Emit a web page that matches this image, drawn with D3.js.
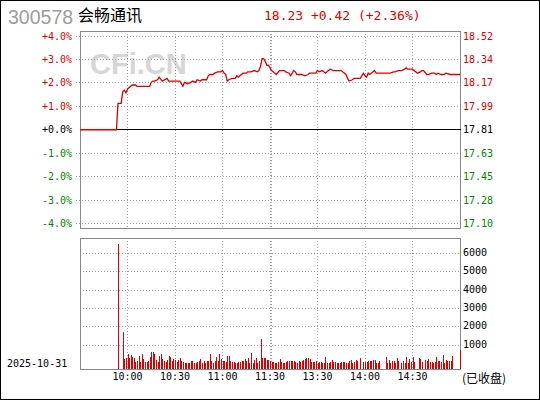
<!DOCTYPE html>
<html>
<head>
<meta charset="utf-8">
<script src="https://cdn.jsdelivr.net/npm/d3@7"></script>
<style>
  body { margin: 0; background: #fff; }
  svg { display: block; }
</style>
</head>
<body>
<svg width="540" height="400"></svg>
<script>
// valeurs
const stockCode = "300578";
const stockName = "会畅通讯";
const quoteText = "18.23 +0.42 (+2.36%)";
const tradeDate = "2025-10-31";
const prevClose = 17.81;

const pctTicks = [4, 3, 2, 1, 0, -1, -2, -3, -4];
const pctLabels = ["+4.0%", "+3.0%", "+2.0%", "+1.0%", "+0.0%", "-1.0%", "-2.0%", "-3.0%", "-4.0%"];
const priceLabels = ["18.52", "18.34", "18.17", "17.99", "17.81", "17.63", "17.45", "17.28", "17.10"];
const volTicks = [6000, 5000, 4000, 3000, 2000, 1000];
const timeTicks = ["10:00", "10:30", "11:00", "11:30", "13:30", "14:00", "14:30"];

// cours minute (heure, prix)
const priceSeries = [
  ["09:30", 17.81], ["09:53", 17.81], ["09:54", 18.01], ["09:56", 18.01], ["09:57", 18.10],
  ["09:58", 18.11], ["09:59", 18.09], ["10:00", 18.12], ["10:03", 18.15], ["10:05", 18.15],
  ["10:06", 18.14], ["10:08", 18.14], ["10:14", 18.14], ["10:15", 18.17], ["10:16", 18.18],
  ["10:17", 18.18], ["10:19", 18.19], ["10:20", 18.21], ["10:22", 18.18], ["10:25", 18.20],
  ["10:26", 18.18], ["10:28", 18.18], ["10:30", 18.18], ["10:33", 18.18], ["10:34", 18.16],
  ["10:35", 18.14], ["10:36", 18.17], ["10:38", 18.16], ["10:40", 18.17], ["10:41", 18.18],
  ["10:43", 18.17], ["10:44", 18.19], ["10:46", 18.18], ["10:47", 18.19], ["10:50", 18.19],
  ["10:51", 18.22], ["10:52", 18.23], ["10:54", 18.23], ["10:55", 18.24], ["10:57", 18.25],
  ["10:59", 18.25], ["11:00", 18.26], ["11:01", 18.24], ["11:02", 18.23], ["11:03", 18.18],
  ["11:04", 18.19], ["11:06", 18.20], ["11:08", 18.20], ["11:09", 18.22], ["11:10", 18.21],
  ["11:11", 18.22], ["11:13", 18.24], ["11:15", 18.24], ["11:16", 18.25], ["11:18", 18.25],
  ["11:20", 18.26], ["11:22", 18.25], ["11:23", 18.26], ["11:24", 18.29], ["11:25", 18.35],
  ["11:26", 18.35], ["11:27", 18.33], ["11:28", 18.30], ["11:29", 18.30], ["11:30", 18.28],
  ["13:01", 18.26], ["13:03", 18.24], ["13:04", 18.23], ["13:06", 18.26], ["13:07", 18.26],
  ["13:09", 18.26], ["13:10", 18.25], ["13:12", 18.24], ["13:13", 18.22], ["13:14", 18.24],
  ["13:15", 18.26], ["13:16", 18.25], ["13:17", 18.23], ["13:19", 18.23], ["13:20", 18.23],
  ["13:22", 18.22], ["13:24", 18.23], ["13:25", 18.24], ["13:27", 18.24], ["13:29", 18.24],
  ["13:30", 18.26], ["13:31", 18.25], ["13:33", 18.26], ["13:34", 18.25], ["13:35", 18.24],
  ["13:36", 18.25], ["13:38", 18.27], ["13:40", 18.26], ["13:41", 18.26], ["13:43", 18.26],
  ["13:45", 18.26], ["13:47", 18.24], ["13:48", 18.23], ["13:49", 18.20], ["13:50", 18.18],
  ["13:52", 18.19], ["13:53", 18.20], ["13:55", 18.20], ["13:57", 18.20], ["13:58", 18.22],
  ["13:59", 18.24], ["14:00", 18.22], ["14:01", 18.21], ["14:02", 18.24], ["14:03", 18.23],
  ["14:04", 18.24], ["14:06", 18.26], ["14:07", 18.24], ["14:14", 18.24], ["14:16", 18.24],
  ["14:18", 18.25], ["14:19", 18.25], ["14:21", 18.26], ["14:23", 18.26], ["14:25", 18.27],
  ["14:26", 18.28], ["14:27", 18.27], ["14:30", 18.27], ["14:32", 18.25], ["14:33", 18.24],
  ["14:35", 18.25], ["14:36", 18.26], ["14:37", 18.26], ["14:39", 18.23], ["14:40", 18.23],
  ["14:42", 18.24], ["14:44", 18.24], ["14:45", 18.23], ["14:46", 18.24], ["14:48", 18.23],
  ["14:50", 18.23], ["14:51", 18.24], ["14:54", 18.23], ["15:00", 18.23]
];

// volume par minute à partir de 09:54
const volumeStart = "09:54";
const volumes = [
  6500, 0, 0, 1700, 255, 326, 527, 293, 456, 348,
  293, 109, 150, 402, 109, 527, 255, 109, 76, 150,
  350, 652, 652, 510, 180, 76, 402, 510, 236, 150,
  76, 180, 418, 350, 150, 255, 180, 109, 200, 290,
  150, 109, 60, 30, 60, 60, 150, 150, 40, 40,
  109, 150, 255, 40, 150, 40, 150, 150, 510, 150,
  40, 170, 380, 150, 510, 236, 170, 150, 109, 418,
  418, 150, 76, 76, 40, 60, 76, 109, 150, 170,
  260, 150, 290, 40, 581, 40, 180, 290, 60, 150,
  1340, 290, 290, 290, 220, 200, 130, 109, 90, 40,
  40, 109, 255, 109, 60, 40, 109, 130, 150, 150,
  150, 150, 76, 40, 130, 76, 150, 180, 270, 330,
  330, 255, 76, 109, 109, 150, 40, 109, 109, 40,
  40, 380, 40, 40, 109, 180, 109, 109, 40, 40,
  40, 76, 76, 109, 40, 40, 150, 180, 40, 109,
  180, 150, 0, 310, 0, 109, 109, 76, 150, 150,
  150, 180, 220, 40, 40, 150, 0, 0, 0, 380,
  40, 200, 40, 150, 150, 20, 310, 150, 0, 40,
  150, 40, 380, 40, 236, 76, 380, 76, 0, 0,
  290, 270, 76, 0, 200, 150, 236, 76, 76, 40,
  109, 380, 150, 150, 109, 473, 40, 200, 150, 150,
  150, 418, 0, 0, 0, 0, 745
];

// index de minute dans la séance (9:30-11:30, 13:01-15:00)
function minuteIndex(t) {
  const [h, m] = t.split(":").map(Number);
  const mins = h * 60 + m;
  return mins <= 690 ? mins - 570 : mins - 780 + 120;
}

const red = "#dd0000", green = "#008800";
const mono = "'DejaVu Sans Mono', monospace";
const cjk = "'Noto Sans CJK SC', sans-serif";

const svg = d3.select("svg");

svg.append("rect")
  .attr("x", 0.5).attr("y", 0.5)
  .attr("width", 539).attr("height", 399)
  .attr("fill", "#fff").attr("stroke", "#000");

// échelles
const x = d3.scaleLinear().domain([0, 240]).range([80, 460]);
const yPct = d3.scaleLinear().domain([-4, 4]).range([223.5, 36]);
const yVol = d3.scaleLinear().domain([0, 6000]).range([363.7, 253.3]);

const pTop = { y0: 31, y1: 228 };
const pBot = { y0: 238, y1: 369 };
const crisp = v => Math.floor(v) + 0.5;

// en-tête
svg.append("text").attr("x", 8).attr("y", 24)
  .attr("font-family", "'Liberation Sans', Arial, sans-serif").attr("font-size", 19.5)
  .attr("fill", "#9c9c9c").text(stockCode);
svg.append("text").attr("x", 78).attr("y", 21)
  .attr("font-family", cjk).attr("font-size", 16)
  .attr("fill", "#000").text(stockName);
svg.append("text").attr("x", 264).attr("y", 20)
  .attr("font-family", mono).attr("font-size", 13)
  .attr("fill", red).text(quoteText);

// filigrane
svg.append("text").attr("x", 90).attr("y", 74)
  .attr("font-family", "'Liberation Sans', Arial, sans-serif")
  .attr("font-size", 29).attr("font-weight", "bold")
  .attr("fill", "#d6d6d6").text("CFi.CN");

// grilles
const gridStyle = s => s.attr("stroke", "#a0a0a0").attr("stroke-dasharray", "1,2").attr("fill", "none");

svg.append("g").selectAll("line")
  .data(pctTicks.filter(d => d !== 0))
  .join("line")
  .attr("x1", 76).attr("x2", 460)
  .attr("y1", d => crisp(yPct(d))).attr("y2", d => crisp(yPct(d)))
  .call(gridStyle);

svg.append("g").selectAll("line")
  .data(volTicks)
  .join("line")
  .attr("x1", 80).attr("x2", 460)
  .attr("y1", d => crisp(yVol(d))).attr("y2", d => crisp(yVol(d)))
  .call(gridStyle);

const vLines = timeTicks.map(minuteIndex).concat([121]);
[pTop, pBot].forEach(p => {
  svg.append("g").selectAll("line")
    .data(vLines)
    .join("line")
    .attr("x1", d => crisp(x(d))).attr("x2", d => crisp(x(d)))
    .attr("y1", p.y0).attr("y2", p.y1)
    .call(gridStyle);
});

// cadres
[pTop, pBot].forEach(p => {
  svg.append("rect")
    .attr("x", 80.5).attr("y", p.y0 + 0.5)
    .attr("width", 380).attr("height", p.y1 - p.y0)
    .attr("fill", "none").attr("stroke", "#888");
});

// ligne zéro
svg.append("line")
  .attr("x1", 80).attr("x2", 461)
  .attr("y1", crisp(yPct(0))).attr("y2", crisp(yPct(0)))
  .attr("stroke", "#000");

// courbe de prix
const line = d3.line()
  .x(d => x(minuteIndex(d[0])))
  .y(d => yPct((d[1] / prevClose - 1) * 100));

svg.append("path")
  .datum(priceSeries)
  .attr("d", line)
  .attr("fill", "none")
  .attr("stroke", red)
  .attr("stroke-width", 1.3);

// barres de volume
const start = minuteIndex(volumeStart);
const volData = volumes.map((v, i) => ({ m: start + i, v })).filter(d => d.v > 0);
svg.append("g").selectAll("rect")
  .data(volData)
  .join("rect")
  .attr("x", d => Math.round(x(d.m)))
  .attr("y", d => yVol(d.v))
  .attr("width", 1)
  .attr("height", d => pBot.y1 - yVol(d.v))
  .attr("fill", red)
  .attr("shape-rendering", "crispEdges");

// étiquettes axe gauche / droit
svg.append("g").selectAll("text")
  .data(pctTicks)
  .join("text")
  .attr("x", 72).attr("y", d => yPct(d))
  .attr("text-anchor", "end").attr("dominant-baseline", "central")
  .attr("font-family", mono).attr("font-size", 10)
  .attr("fill", d => d > 0 ? red : d < 0 ? green : "#000")
  .text((d, i) => pctLabels[i]);

svg.append("g").selectAll("text")
  .data(pctTicks)
  .join("text")
  .attr("x", 463).attr("y", d => yPct(d))
  .attr("dominant-baseline", "central")
  .attr("font-family", mono).attr("font-size", 10)
  .attr("fill", d => d > 0 ? red : d < 0 ? green : "#000")
  .text((d, i) => priceLabels[i]);

svg.append("g").selectAll("text")
  .data(volTicks)
  .join("text")
  .attr("x", 463).attr("y", d => yVol(d) - 1)
  .attr("dominant-baseline", "central")
  .attr("font-family", mono).attr("font-size", 10)
  .attr("fill", "#000")
  .text(d => d);

svg.append("g").selectAll("text")
  .data(timeTicks)
  .join("text")
  .attr("x", d => x(minuteIndex(d)))
  .attr("y", 380)
  .attr("text-anchor", "middle")
  .attr("font-family", mono).attr("font-size", 10)
  .attr("fill", "#000")
  .text(d => d);

svg.append("text").attr("x", 7).attr("y", 367)
  .attr("font-family", mono).attr("font-size", 10)
  .attr("fill", "#000").text(tradeDate);

svg.append("text").attr("x", 462).attr("y", 383)
  .attr("font-family", cjk).attr("font-size", 12)
  .attr("fill", "#000").text("(已收盘)");
</script>
</body>
</html>
